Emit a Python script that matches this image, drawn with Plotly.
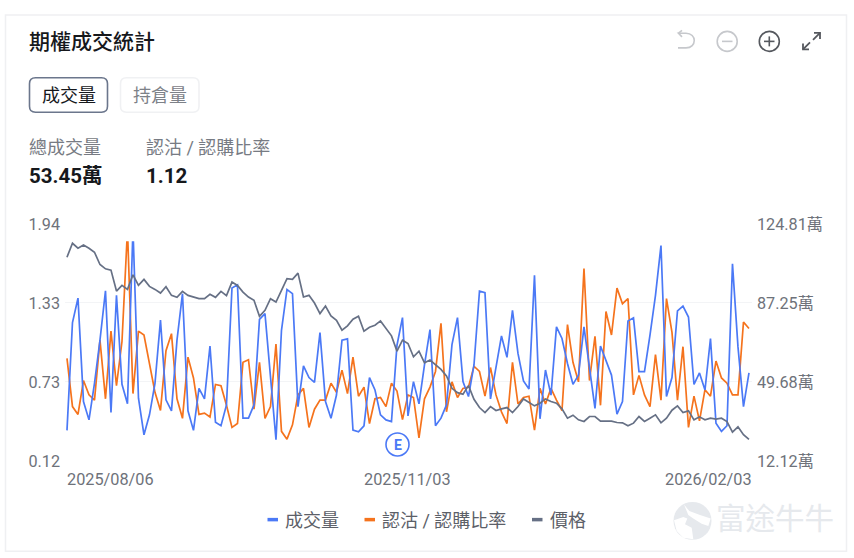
import plotly.graph_objects as go
import pandas as pd

W, H = 854, 558
ML, MR, MT, MB = 65, 102, 223, 97.5
holidays = ["2025-09-01", "2025-11-27", "2025-12-25", "2026-01-01", "2026-01-19"]
dates = [d.strftime("%Y/%m/%d") for d in pd.bdate_range("2025-08-06", "2026-02-03")
         if d.strftime("%Y-%m-%d") not in holidays]

volume = [26.2,77.5,89.1,39.9,31.2,48.6,69.1,92.6,34.7,90.4,48.1,38.9,122.0,41.5,24.1,33.6,48.6,78.6,40.7,35.5,
          69.1,91.2,35.5,26.2,46.2,41.2,66.3,30.1,28.4,38.3,93.9,95.4,32.0,32.0,38.3,79.0,81.7,52.5,21.8,73.8,
          93.2,91.2,37.5,56.9,51.3,49.0,72.7,39.9,32.0,43.0,69.1,69.7,26.3,25.5,28.4,51.3,45.4,33.6,31.2,30.4,
          66.7,79.8,33.1,49.4,38.8,57.3,74.1,28.4,32.0,38.3,67.0,79.8,49.4,42.3,57.3,92.4,91.7,41.2,55.7,71.1,
          60.9,83.3,62.8,49.7,45.9,99.9,31.7,54.9,43.0,75.4,69.9,58.0,48.1,52.5,75.4,55.7,36.7,66.3,59.6,52.5,
          33.9,39.9,78.2,79.7,54.1,54.1,71.5,90.4,114.1,42.3,51.3,83.0,85.3,80.1,48.1,53.5,45.4,69.9,29.6,25.7,
          28.4,105.4,65.9,37.5,53.5]
put_call = [0.90,0.53,0.47,0.73,0.62,0.58,1.04,0.59,1.11,0.69,1.03,1.89,0.63,1.11,1.08,0.85,0.64,0.50,0.96,1.09,
            0.59,0.44,0.91,0.75,0.47,0.48,0.45,0.70,0.69,0.54,0.37,0.40,0.87,0.89,0.51,0.87,0.44,0.53,1.01,0.34,
            0.28,0.39,0.62,0.67,0.37,0.51,0.58,0.58,0.71,0.64,0.81,0.63,0.91,0.61,0.68,0.40,0.59,0.60,0.53,0.71,
            0.65,0.43,0.62,0.60,0.29,0.59,0.68,0.80,1.17,0.49,0.72,0.60,0.67,0.68,0.84,0.80,0.61,0.83,0.62,0.49,
            0.40,0.87,0.55,0.60,0.61,0.35,0.67,0.55,0.67,0.58,0.50,1.16,0.87,0.72,1.59,0.73,1.07,0.54,1.26,1.08,
            1.44,1.32,1.36,0.62,0.77,0.62,0.53,0.93,0.58,1.36,1.10,0.58,0.99,0.37,0.61,0.42,0.66,0.61,0.88,0.75,
            0.71,0.62,0.62,1.18,1.13]
price = [30.55,32.65,31.9,32.4,31.9,31.3,29.45,28.8,28.6,25.45,26.3,25.7,27.9,26.3,27.2,26.15,25.7,25.15,26.1,24.8,
         24.5,25.4,24.8,24.5,24.3,24.3,24.95,24.5,25.4,24.75,26.8,26.3,25.3,24.55,24.05,21.65,22.55,24.3,23.8,25.55,
         27.3,27.2,28.15,24.55,24.8,23.65,22.05,23.2,21.7,21.05,19.55,20.2,21.2,21.65,19.4,20.0,20.3,20.95,19.8,18.7,
         16.4,18.05,17.55,15.55,16.4,14.65,15.05,14.4,13.65,12.65,10.8,10.15,9.9,11.2,9.15,7.9,7.15,8.05,7.45,7.7,
         7.9,7.15,8.05,9.2,8.65,8.15,8.55,9.2,8.8,8.55,7.7,6.3,6.75,6.05,5.8,6.55,6.55,5.85,5.85,5.85,
         5.65,5.6,5.15,5.55,6.55,5.8,6.3,6.8,5.6,6.3,7.5,8.15,7.15,7.4,6.05,6.5,6.05,6.3,6.15,6.3,
         5.8,4.2,5.0,3.8,3.1]

left_ticks = [0.12, 0.7267, 1.3333, 1.94]
left_labels = ["0.12", "0.73", "1.33", "1.94"]
right_ticks = [12.12, 49.68, 87.25, 124.81]
right_labels = ["12.12萬", "49.68萬", "87.25萬", "124.81萬"]

BLUE, ORANGE, GREY = "#4B79F6", "#F5731D", "#667085"
FONT = "Roboto, 'Noto Sans CJK TC', sans-serif"
TICK = "#6E727A"
INK = "#16181C"

def px(x): return (x - ML) / (W - ML - MR)
def py(y): return (H - MB - y) / (H - MT - MB)

fig = go.Figure()
line_w = 1.7
fig.add_trace(go.Scatter(x=dates, y=volume, yaxis="y2", mode="lines", name="成交量",
                         line=dict(color=BLUE, width=line_w), showlegend=False))
fig.add_trace(go.Scatter(x=dates, y=put_call, yaxis="y", mode="lines", name="認沽 / 認購比率",
                         line=dict(color=ORANGE, width=line_w), showlegend=False))
fig.add_trace(go.Scatter(x=dates, y=price, yaxis="y3", mode="lines", name="價格",
                         line=dict(color=GREY, width=line_w), showlegend=False))

shapes = []
def rrect(x0, y0, x1, y1, r, line, width, fill="rgba(0,0,0,0)"):
    p = (f"M{px(x0+r)},{py(y0)} L{px(x1-r)},{py(y0)} Q{px(x1)},{py(y0)} {px(x1)},{py(y0+r)} "
         f"L{px(x1)},{py(y1-r)} Q{px(x1)},{py(y1)} {px(x1-r)},{py(y1)} L{px(x0+r)},{py(y1)} "
         f"Q{px(x0)},{py(y1)} {px(x0)},{py(y1-r)} L{px(x0)},{py(y0+r)} Q{px(x0)},{py(y0)} {px(x0+r)},{py(y0)} Z")
    shapes.append(dict(type="path", xref="paper", yref="paper", path=p, line=dict(color=line, width=width),
                       fillcolor=fill, layer="below"))

def poly(points, color, width=1.6, fill="rgba(0,0,0,0)", closed=False, layer="above"):
    p = "M" + " L".join(f"{px(a)},{py(b)}" for a, b in points) + (" Z" if closed else "")
    shapes.append(dict(type="path", xref="paper", yref="paper", path=p, line=dict(color=color, width=width),
                       fillcolor=fill, layer=layer))

def circle(cx, cy, r, color, width=1.6, fill="rgba(0,0,0,0)", layer="above"):
    shapes.append(dict(type="circle", xref="paper", yref="paper", x0=px(cx-r), x1=px(cx+r), y0=py(cy+r), y1=py(cy-r),
                       line=dict(color=color, width=width), fillcolor=fill, layer=layer))

# card and buttons
shapes.append(dict(type="rect", xref="paper", yref="paper", x0=px(5.5), x1=px(846.5), y0=py(552), y1=py(14.5),
                   line=dict(color="#EFF0F2", width=1.5), fillcolor="rgba(0,0,0,0)", layer="below"))
rrect(29.5, 77.5, 107.5, 112, 6, "#6B768C", 1.6)
rrect(120.5, 77.5, 199, 112, 6, "#F0F1F3", 1.6)

# hide everything that runs over the chart's clipping edge
shapes.append(dict(type="rect", xref="paper", yref="paper", x0=px(66), x1=px(751), y0=py(241.4), y1=py(224.5),
                   line=dict(width=0), fillcolor="white", layer="above"))

# toolbar icons
LIGHT, DARK = "#C6C8CC", "#55585E"
poly([(682, 36.5), (678.5, 32.8), (686, 32.8)], LIGHT)
shapes.append(dict(type="path", xref="paper", yref="paper",
                   path=f"M{px(686)},{py(32.8)} C{px(697)},{py(32.8)} {px(697)},{py(47.5)} {px(686)},{py(47.5)} L{px(678)},{py(47.5)}",
                   line=dict(color=LIGHT, width=1.6), layer="above"))
poly([(678.5, 32.8), (682, 30)], LIGHT)
circle(727.2, 41, 10, LIGHT)
poly([(722, 41), (732.5, 41)], LIGHT)
circle(769.3, 41, 10, DARK)
poly([(764, 41), (774.5, 41)], DARK)
poly([(769.3, 36), (769.3, 46)], DARK)
poly([(814, 32.5), (820, 32.5), (820, 38.5)], DARK, 1.8)
poly([(820, 32.5), (813, 39.5)], DARK, 1.8)
poly([(803, 43), (803, 49), (809, 49)], DARK, 1.8)
poly([(803, 49), (810, 42)], DARK, 1.8)

# earnings marker
circle(397.5, 445, 11.5, BLUE, 1.6, "white")

# legend marks
for x0, c in [(267.5, BLUE), (364.5, ORANGE), (532, GREY)]:
    shapes.append(dict(type="rect", xref="paper", yref="paper", x0=px(x0), x1=px(x0+10.5), y0=py(522), y1=py(518.5),
                       line=dict(width=0), fillcolor=c, layer="above"))

# watermark logo
WM = "#E6E9ED"
circle(692.5, 521.5, 19, WM, 0, WM, "below")
poly([(684, 505), (689.3, 511.7), (700, 515.7), (710.7, 519), (708.3, 526.7), (701.7, 524.3), (693.3, 519), (688.3, 515.7)],
     "white", 0, "white", True, "below")
poly([(674, 521), (683.3, 517.7), (687.3, 519), (685, 525), (691.7, 528.3), (693.3, 540), (683.3, 538.3), (676.7, 531.7)],
     "white", 0, "white", True, "below")
circle(689.3, 523.3, 2, WM, 0, WM, "below")

def text(x, y, s, size, color=INK, anchor="left", weight=400):
    return dict(xref="paper", yref="paper", x=px(x), y=py(y), text=s, showarrow=False, xanchor=anchor, yanchor="middle",
                xshift=0, font=dict(family=FONT, size=size, color=color, weight=weight))

DATE_FONT = dict(family=FONT, size=16.3, color=TICK)
ann = [
    text(26.5, 41.5, "期權成交統計", 21, INK, weight=500),
    text(68.5, 95, "成交量", 18, INK, "center"),
    text(160, 95, "持倉量", 18, "#7D8188", "center"),
    text(26.5, 147.5, "總成交量", 18, "#777B83"),
    text(144, 147.5, "認沽 / 認購比率", 18, "#777B83"),
    text(26.5, 176, "53.45萬", 20.5, INK, weight=700),
    text(144, 176, "1.12", 20.5, INK, weight=700),
    text(397.5, 445, "E", 14, BLUE, "center", 700),
    text(283, 521.5, "成交量", 18, "#5C6068"),
    text(380, 521.5, "認沽 / 認購比率", 18, "#5C6068"),
    text(548, 521.5, "價格", 18, "#5C6068"),
    text(713.5, 520, "富途牛牛", 29.5, WM),
    dict(xref="x", yref="paper", x=dates[0], y=py(480), text=dates[0], showarrow=False, xanchor="left",
         yanchor="middle", xshift=-2, font=DATE_FONT),
    dict(xref="x", yref="paper", x=dates[-1], y=py(480), text=dates[-1], showarrow=False, xanchor="right",
         yanchor="middle", xshift=5, font=DATE_FONT),
    dict(xref="x", yref="paper", x=dates[62], y=py(480), text=dates[62], showarrow=False, xanchor="center",
         yanchor="middle", font=DATE_FONT),
]

axis_font = dict(family=FONT, size=16.2, color=TICK)
fig.update_layout(
    width=W, height=H, autosize=False,
    margin=dict(l=ML, r=MR, t=MT, b=MB),
    paper_bgcolor="white", plot_bgcolor="rgba(0,0,0,0)",
    showlegend=False,
    shapes=shapes, annotations=ann,
    xaxis=dict(type="category", range=[-0.36, 124.55], showgrid=False, zeroline=False, showticklabels=False, ticks="",
               showline=False),
    yaxis=dict(range=[0.12, 1.94], tickvals=left_ticks, ticktext=left_labels, tickfont=axis_font,
               gridcolor="#F3F4F6", gridwidth=1, zeroline=False, showline=False, ticks="", ticklabelstandoff=4,
               ticklabelshift=1),
    yaxis2=dict(range=[12.12, 124.81], overlaying="y", side="right", tickvals=right_ticks, ticktext=right_labels,
                tickfont=axis_font, showgrid=False, zeroline=False, showline=False, ticks="", ticklabelstandoff=4,
                ticklabelshift=1),
    yaxis3=dict(range=[0, 35.7], overlaying="y", side="left", visible=False),
)

fig.write_html("out.html", config={"displayModeBar": False},
               post_script="document.body.style.margin='0';document.body.style.overflow='hidden';")
